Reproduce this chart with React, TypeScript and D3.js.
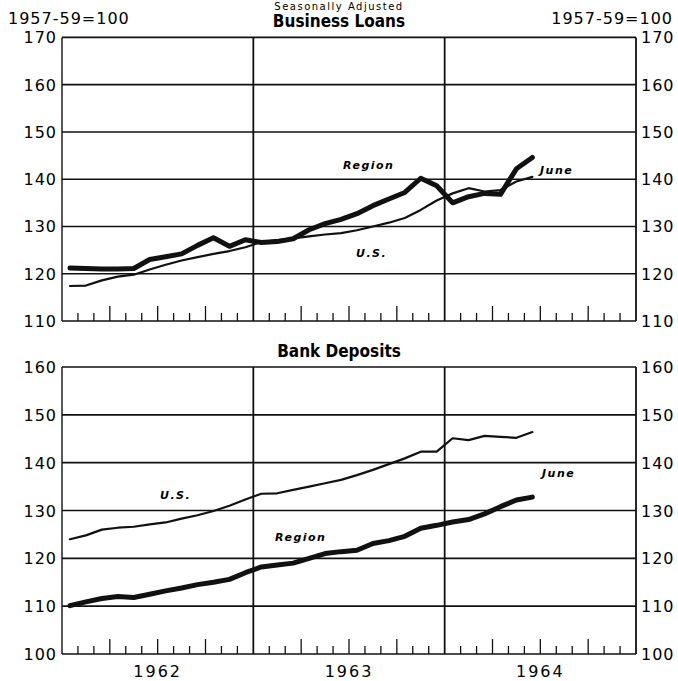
import React from 'react'
import * as d3 from 'd3'

// monthly, Jan 1962 .. Jun 1964
const loansRegion = [121.2, 121.1, 121.0, 121.0, 121.1, 123.0, 123.6, 124.2, 126.0, 127.6, 125.8, 127.2,
  126.6, 126.8, 127.4, 129.3, 130.6, 131.5, 132.7, 134.4, 135.8, 137.2, 140.2, 138.6,
  135.0, 136.3, 137.0, 136.8, 142.2, 144.6]
const loansUS = [117.4, 117.5, 118.6, 119.4, 119.8, 120.9, 121.9, 122.8, 123.5, 124.2, 124.8, 125.6,
  126.7, 127.1, 127.5, 127.9, 128.3, 128.6, 129.2, 130.0, 130.8, 131.8, 133.5, 135.5,
  137.0, 138.1, 137.4, 137.7, 139.5, 140.5]
const depositsUS = [124.0, 124.8, 126.0, 126.4, 126.6, 127.1, 127.5, 128.3, 129.0, 129.9, 131.0, 132.3,
  133.5, 133.6, 134.3, 135.0, 135.7, 136.4, 137.4, 138.5, 139.7, 140.9, 142.3, 142.3,
  145.1, 144.7, 145.6, 145.4, 145.2, 146.4]
const depositsRegion = [110.1, 110.9, 111.6, 112.0, 111.8, 112.5, 113.2, 113.8, 114.5, 115.0, 115.6, 117.0,
  118.2, 118.6, 119.0, 120.0, 121.0, 121.4, 121.7, 123.1, 123.7, 124.6, 126.3, 126.9,
  127.6, 128.1, 129.3, 130.8, 132.2, 132.8]

const years = ['1962', '1963', '1964']
const loanTicks = [110, 120, 130, 140, 150, 160, 170]
const depositTicks = [100, 110, 120, 130, 140, 150, 160]

const numFont = "'DejaVu Sans', sans-serif"
const titleFont = "'Liberation Sans Narrow', 'DejaVu Sans Condensed', sans-serif"

const x = d3.scaleLinear().domain([0, 36]).range([62, 636])

function Panel({ y, ticks, region, us, labels }) {
  const [lo, hi] = y.domain()
  const line = d3.line().x((d, i) => x(i + 0.5)).y(d => y(d))
  const monthTicks = d3.range(1, 36).filter(m => m % 12 !== 0)
  return (
    <g>
      {ticks.map(t => (
        <g key={t}>
          <line x1={x(0)} x2={x(36)} y1={y(t)} y2={y(t)} stroke="#111" strokeWidth={1.6} />
          <text x={57} y={y(t) + 6} textAnchor="end" fontSize={16} fontFamily={numFont} letterSpacing={1}>{t}</text>
          <text x={641} y={y(t) + 6} textAnchor="start" fontSize={16} fontFamily={numFont} letterSpacing={1}>{t}</text>
        </g>
      ))}
      {[0, 12, 24, 36].map(m => (
        <line key={m} x1={x(m)} x2={x(m)} y1={y(hi)} y2={y(lo)} stroke="#111" strokeWidth={m === 0 ? 1.4 : 1.8} />
      ))}
      {monthTicks.map(m => (
        <line key={m} x1={x(m)} x2={x(m)} y1={y(lo)} y2={y(lo) - (m % 3 === 0 ? 15 : 8)} stroke="#111" strokeWidth={1.3} />
      ))}
      <path d={line(us)} fill="none" stroke="#111" strokeWidth={2.2} strokeLinejoin="round" strokeLinecap="round" />
      <path d={line(region)} fill="none" stroke="#111" strokeWidth={5} strokeLinejoin="round" strokeLinecap="round" />
      {labels.map(l => (
        <text key={l.t} x={l.x} y={y(l.v)} fontSize={11} fontStyle="italic" fontWeight="bold"
          fontFamily={numFont} letterSpacing={1.5}>{l.t}</text>
      ))}
    </g>
  )
}

export default function App() {
  const yTop = d3.scaleLinear().domain([110, 170]).range([321, 37.4])
  const yBot = d3.scaleLinear().domain([100, 160]).range([654, 367])
  return (
    <svg width={678} height={681} style={{ position: 'absolute', left: 0, top: 0, background: '#fff' }}>
      <rect width={678} height={681} fill="#fff" />
      <text x={339} y={10} textAnchor="middle" fontSize={10} fontFamily={numFont} letterSpacing={1.5}>Seasonally Adjusted</text>
      <text x={8} y={24} fontSize={16} fontFamily={numFont} letterSpacing={1}>1957-59=100</text>
      <text x={673} y={24} textAnchor="end" fontSize={16} fontFamily={numFont} letterSpacing={1}>1957-59=100</text>
      <text x={339} y={27} textAnchor="middle" fontSize={17} fontWeight="bold" fontFamily={titleFont}>Business Loans</text>
      <Panel y={yTop} ticks={loanTicks} region={loansRegion} us={loansUS}
        labels={[{ t: 'Region', x: 343, v: 142.2 }, { t: 'U.S.', x: 356, v: 123.6 }, { t: 'June', x: 540, v: 141.1 }]} />
      <text x={339} y={357} textAnchor="middle" fontSize={17} fontWeight="bold" fontFamily={titleFont}>Bank Deposits</text>
      <Panel y={yBot} ticks={depositTicks} region={depositsRegion} us={depositsUS}
        labels={[{ t: 'U.S.', x: 160, v: 132.4 }, { t: 'Region', x: 275, v: 123.6 }, { t: 'June', x: 542, v: 137 }]} />
      {years.map((yr, i) => (
        <text key={yr} x={x(i * 12 + 6)} y={677} textAnchor="middle" fontSize={16} fontFamily={numFont} letterSpacing={2}>{yr}</text>
      ))}
    </svg>
  )
}
